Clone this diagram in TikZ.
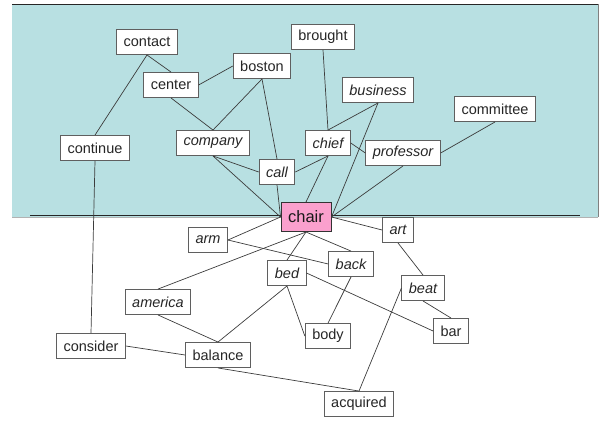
\documentclass[tikz,border=0pt]{standalone}
\usepackage{fontspec}
\setmainfont{Liberation Sans}
\definecolor{bgcyan}{RGB}{184,224,226}
\definecolor{boxline}{RGB}{95,95,95}
\definecolor{edgecol}{RGB}{60,60,60}
\definecolor{chairpink}{RGB}{250,160,205}
\begin{document}
\begin{tikzpicture}[x=1pt,y=-1pt,
  word/.style={draw=boxline,fill=white,line width=0.9pt,inner xsep=7pt,inner ysep=0pt,
    minimum height=25pt,font=\fontsize{14.5}{15}\selectfont,text=black!85},
  itword/.style={word,font=\fontsize{14.5}{15}\selectfont\itshape},
  hub/.style={draw=black!80,fill=chairpink,line width=1pt,inner xsep=7pt,inner ysep=0pt,
    minimum height=29pt,minimum width=50pt,font=\fontsize{16.5}{17}\selectfont,text=black!90},
  link/.style={draw=edgecol,line width=0.7pt}]
\useasboundingbox (0,0) rectangle (602,421);
% background region
\fill[bgcyan] (12,4) rectangle (598,217);
\draw[black!85,line width=1pt] (12,4) -- (598,4);
\draw[gray,line width=0.8pt] (598,4) -- (598,217);
\draw[gray!60,line width=0.8pt] (12,217) -- (598,217);
\draw[black!85,line width=1.2pt] (30,215.5) -- (580,215.5);
% nodes
\node[word]   (contact)   at (147,42)  {contact};
\node[word]   (center)    at (171,85)  {center};
\node[word]   (boston)    at (262,66)  {boston};
\node[itword] (company)   at (213,143) {company};
\node[word]   (continue)  at (95,148)  {continue};
\node[itword] (call)      at (277,172) {call};
\node[word]   (brought)   at (323,37)  {brought};
\node[itword] (business)  at (378,90)  {business};
\node[word]   (committee) at (495,109) {committee};
\node[itword] (chief)     at (328,143) {chief};
\node[itword] (professor) at (403,153) {professor};
\node[hub]    (chair)     at (306,217) {chair};
\node[itword] (art)       at (398,230) {art};
\node[itword] (back)      at (351,264) {back};
\node[itword] (bed)       at (287,273) {bed};
\node[itword] (beat)      at (423,288) {beat};
\node[word]   (bar)       at (451,331) {bar};
\node[word]   (body)      at (328,336) {body};
\node[word]   (acquired)  at (359,404) {acquired};
\node[itword] (arm)       at (208,240) {arm};
\node[itword] (america)   at (158,302) {america};
\node[word]   (consider)  at (91,346)  {consider};
\node[word]   (balance)   at (218,355) {balance};
% connectors
\begin{scope}[on background layer/.try]
\end{scope}
\draw[link] (contact.south) -- (center.north);
\draw[link] (contact.south) -- (continue.north);
\draw[link] (center.east) -- (boston.west);
\draw[link] (center.south) -- (company.north);
\draw[link] (boston.south) -- (company.north);
\draw[link] (boston.south) -- (call.north);
\draw[link] (company.south) -- (call.west);
\draw[link] (company.south) -- (chair.west);
\draw[link] (continue.south) -- (consider.north);
\draw[link] (call.east) -- (chief.south);
\draw[link] (call.south) -- (chair.west);
\draw[link] (brought.south) -- (chief.north);
\draw[link] (chief.north) -- (business.south);
\draw[link] (chief.east) -- (professor.west);
\draw[link] (chief.south) -- (chair.north);
\draw[link] (business.south) -- (chair.east);
\draw[link] (professor.south) -- (chair.east);
\draw[link] (professor.east) -- (committee.south);
\draw[link] (chair.west) -- (arm.east);
\draw[link] (chair.south) -- (america.north);
\draw[link] (chair.south) -- (bed.north);
\draw[link] (chair.south) -- (back.north);
\draw[link] (chair.east) -- (art.west);
\draw[link] (arm.east) -- (back.west);
\draw[link] (art.south) -- (beat.north);
\draw[link] (bed.south) -- (balance.north);
\draw[link] (bed.south) -- (body.west);
\draw[link] (bed.east) -- (bar.west);
\draw[link] (back.south) -- (body.north);
\draw[link] (beat.south) -- (bar.north);
\draw[link] (beat.west) -- (acquired.north);
\draw[link] (america.south) -- (balance.north);
\draw[link] (consider.east) -- (balance.west);
\draw[link] (balance.south) -- (acquired.north);
\end{tikzpicture}
\end{document}
